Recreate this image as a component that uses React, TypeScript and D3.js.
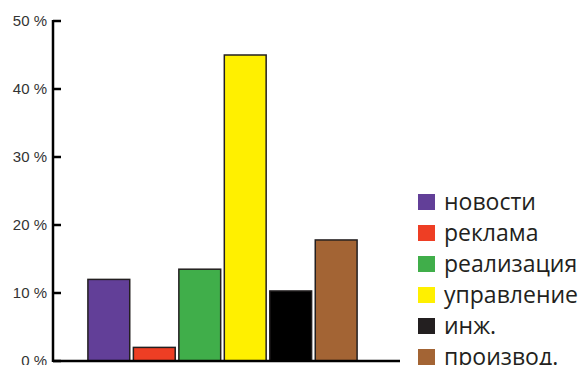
import React from "react";
import * as d3 from "d3";

const categories = ["новости", "реклама", "реализация", "управление", "инж.", "производ."];
const values = [12, 2, 13.5, 45, 10.3, 17.8];
const colors = ["#623f98", "#ee3e24", "#40ae4a", "#fff000", "#000000", "#a36434"];
const yTicks = [0, 10, 20, 30, 40, 50];

export default function App() {
  const W = 579, H = 365;
  const axisX = 53;
  const y = d3.scaleLinear().domain([0, 50]).range([361, 21]);
  const x = d3.scaleBand<string>().domain(categories).range([87, 358]).paddingInner(0.08).paddingOuter(0.02);
  const legendY = d3.scalePoint<string>().domain(categories).range([202, 357]);
  return (
    <svg width={W} height={H} style={{ position: "absolute", left: 0, top: 0, background: "#fff" }}>
      {categories.map((c, i) => (
        <rect key={c} x={x(c)} y={y(values[i])} width={x.bandwidth()} height={y(0) - y(values[i])}
          fill={colors[i]} stroke="#231f20" strokeWidth={1.5} />
      ))}
      <line x1={axisX} x2={axisX} y1={y(50) - 1} y2={y(0) + 1} stroke="#000" strokeWidth={2.5} />
      <line x1={axisX} x2={400} y1={y(0)} y2={y(0)} stroke="#000" strokeWidth={2.5} />
      {yTicks.map(t => (
        <g key={t}>
          <line x1={axisX} x2={61} y1={y(t)} y2={y(t)} stroke="#000" strokeWidth={2.5} />
          <text x={47} y={y(t)} dy="0.35em" textAnchor="end" fontFamily="Liberation Sans, Arial" fontSize={15} fill="#333">{t} %</text>
        </g>
      ))}
      {categories.map((c, i) => (
        <g key={c}>
          <rect x={418} y={legendY(c)! - 8} width={17} height={16} fill={colors[i] === "#000000" ? "#231f20" : colors[i]} />
          <text x={444} y={legendY(c)} dy="0.36em" fontFamily="Open Sans" fontSize={23} fill="#231f20">{c}</text>
        </g>
      ))}
    </svg>
  );
}
